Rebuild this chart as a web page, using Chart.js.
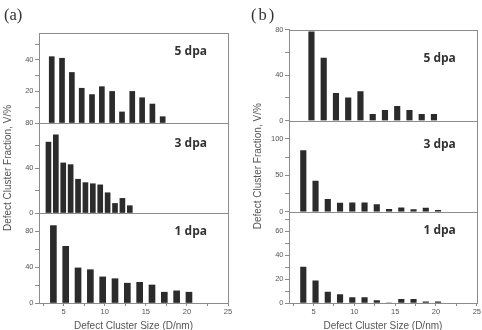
<!DOCTYPE html>
<html>
<head>
<meta charset="utf-8">
<script src="https://cdn.jsdelivr.net/npm/chart.js@4.4.1/dist/chart.umd.min.js"></script>
<style>
body{margin:0;background:#fff;}
#wrap{position:relative;width:482px;height:330px;overflow:hidden;}
canvas{position:absolute;top:0;}
.panel{position:absolute;font-family:"Liberation Serif","DejaVu Serif",serif;font-size:16.5px;line-height:1;color:#333;}
</style>
</head>
<body>
<div id="wrap">
<canvas id="chartA" width="240" height="330" style="left:0"></canvas>
<canvas id="chartB" width="232" height="330" style="left:250px"></canvas>
<div class="panel" style="left:4px;top:7px">(a)</div>
<div class="panel" style="left:251px;top:7px;letter-spacing:2px">(b)</div>
</div>
<script>
const doses = ["5 dpa","3 dpa","1 dpa"];

// panel (a)
const sizeA5 = [3.55,4.8,6.0,7.2,8.45,9.65,10.9,12.1,13.35,14.55,15.8,17.05];
const fracA5 = [42,41,32,22,18,23,20,7,20,16,12,4];
const sizeA3 = [3.15,4.05,4.95,5.85,6.75,7.65,8.55,9.45,10.35,11.25,12.15,13.05];
const fracA3 = [63,69.5,44.5,43,30,27,26,25,18,8.5,13,6.5];
const sizeA1 = [3.75,5.25,6.75,8.25,9.75,11.25,12.75,14.25,15.75,17.25,18.75,20.25];
const fracA1 = [86,63,39,37,29,27,22,23,20,12,13.5,12];

// panel (b)
const sizeB5 = [4.75,6.25,7.75,9.25,10.75,12.25,13.75,15.25,16.75,18.25,19.75];
const fracB5 = [78,55,24,20,25.5,5.5,9,12.5,9,5.5,5.5];
const sizeB3 = [3.75,5.25,6.75,8.25,9.75,11.25,12.75,14.25,15.75,17.25,18.75,20.25];
const fracB3 = [84,42,17,12,12.5,12.5,10,3.5,5.5,3,5,2];
const sizeB1 = [3.75,5.25,6.75,8.25,9.75,11.25,12.75,14.25,15.75,17.25,18.75,20.25];
const fracB1 = [30,18.5,9,7,4.5,4.5,2,0,3,3,1,1];

// axes
const xTicks = [2.5,5,7.5,10,12.5,15,17.5,20,22.5,25];
const xLabels = [5,10,15,20,25];

const ticksA5 = [0,10,20,30,40,50];
const labelsA5 = [20,40];
const ticksA3 = [0,20,40,60,80];
const labelsA3 = [0,40,80];
const ticksA1 = [0,20,40,60,80];
const labelsA1 = [0,40,80];

const ticksB5 = [0,20,40,60,80];
const labelsB5 = [0,40,80];
const ticksB3 = [0,25,50,75,100];
const labelsB3 = [0,50,100];
const ticksB1 = [0,10,20,30,40,50,60,70];
const labelsB1 = [0,20,40,60];

const lineColor = "#8c8c8c";
const tickColor = "#555";
const barColor = "#2b2b2b";
const fam = '"Liberation Sans", Arial, sans-serif';

const framePlugin = {
id:"frame",
afterDatasetsDraw(chart, args, opts){
const ctx = chart.ctx;
const area = chart.chartArea;
const r = Math.round(area.right)+0.5;
ctx.save();
ctx.strokeStyle = lineColor;
ctx.lineWidth = 1;
["y5","y3","y1"].forEach(function(id,k){
const sc = chart.scales[id];
const t = Math.round(sc.top)+0.5;
ctx.beginPath();
ctx.moveTo(Math.round(area.left),t);
ctx.lineTo(r,t);
ctx.stroke();
});
ctx.beginPath();
ctx.moveTo(r,Math.round(area.top));
ctx.lineTo(r,Math.round(area.bottom)+1);
ctx.stroke();
ctx.font = 'bold 12px "Open Sans", sans-serif';
ctx.fillStyle = "#333";
ctx.textAlign = "right";
ctx.textBaseline = "middle";
["y5","y3","y1"].forEach(function(id,k){
const sc = chart.scales[id];
ctx.fillText(doses[k], area.right-21, sc.top+opts.offsets[k]);
});
ctx.restore();
}
};

function points(xs, ys){
return xs.map(function(x,i){ return {x:x, y:ys[i]}; });
}

function yScale(max, ticks, labels, withTitle, titlePad){
return {
type:"linear",
position:"left",
stack:"panel",
stackWeight:1,
offset:false,
min:0,
max:max,
afterBuildTicks: function(ax){ ax.ticks = ticks.map(function(v){ return {value:v}; }); },
afterFit: function(ax){ ax.width = 39; },
ticks:{autoSkip:false, padding:1.5, color:tickColor, font:{family:fam, size:7.5},
callback: function(v){ return labels.includes(v) ? v : ""; }},
grid:{drawOnChartArea:false, drawTicks:true, tickLength:4, color:lineColor},
border:{color:lineColor},
title:{display:withTitle, text:"Defect Cluster Fraction, V/%", color:tickColor,
font:{family:fam, size:10}, padding:{top:titlePad, bottom:0}}
};
}

function makePanel(id, sets, padTop, padRight, titlePad, offsets){
const datasets = sets.map(function(s){
return {
data: points(s.x, s.y),
yAxisID: s.axis,
backgroundColor: barColor,
borderWidth: 0,
barThickness: s.w,
grouped: false
};
});
const scales = {
x:{
type:"linear",
position:"bottom",
min:2,
max:25,
offset:false,
afterBuildTicks: function(ax){ ax.ticks = xTicks.map(function(v){ return {value:v}; }); },
afterFit: function(ax){ ax.height = 27; },
ticks:{autoSkip:false, maxRotation:0, padding:1, color:tickColor, font:{family:fam, size:7.5},
callback: function(v){ return xLabels.includes(v) ? v : ""; }},
grid:{drawOnChartArea:false, drawTicks:true, tickLength:3, offset:false, color:lineColor},
border:{color:lineColor},
title:{display:true, text:"Defect Cluster Size (D/nm)", color:tickColor,
font:{family:fam, size:10}, padding:{top:0, bottom:-2.5}}
}
};
// stacked axes are laid out bottom-up, so add the lowest one first
for(let k=sets.length-1;k>=0;k--){
const s = sets[k];
scales[s.axis] = yScale(s.max, s.ticks, s.labels, k===1, titlePad);
}
new Chart(document.getElementById(id),{
type:"bar",
data:{datasets:datasets},
options:{
responsive:false,
animation:false,
layout:{autoPadding:false, padding:{top:padTop, right:padRight, left:0, bottom:0}},
plugins:{legend:{display:false}, tooltip:{enabled:false}, frame:{offsets:offsets}},
scales:scales
},
plugins:[framePlugin]
});
}

makePanel("chartA",[
{axis:"y5", x:sizeA5, y:fracA5, max:57, ticks:ticksA5, labels:labelsA5, w:5},
{axis:"y3", x:sizeA3, y:fracA3, max:80, ticks:ticksA3, labels:labelsA3, w:5},
{axis:"y1", x:sizeA1, y:fracA1, max:100, ticks:ticksA1, labels:labelsA1, w:6}
], 33, 12, 2.5, [18.5,21,18.5]);

makePanel("chartB",[
{axis:"y5", x:sizeB5, y:fracB5, max:80, ticks:ticksB5, labels:labelsB5, w:5.5},
{axis:"y3", x:sizeB3, y:fracB3, max:125, ticks:ticksB3, labels:labelsB3, w:5.5},
{axis:"y1", x:sizeB1, y:fracB1, max:76, ticks:ticksB1, labels:labelsB1, w:5.5}
], 29.5, 2, 2, [29,23.5,18.5]);
</script>
</body>
</html>
